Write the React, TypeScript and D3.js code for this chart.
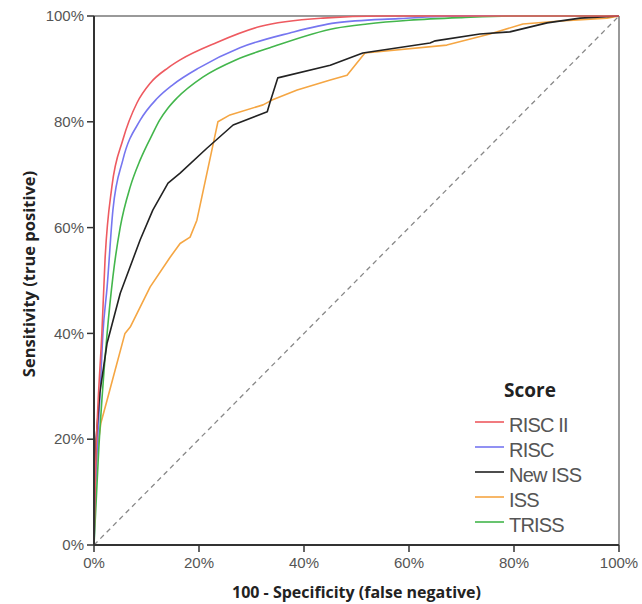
import React from 'react';
import * as d3 from 'd3';

// ROC points as [100 - specificity %, sensitivity %]
const riscII: [number, number][] = [
  [0, 0], [0.2, 10], [0.4, 18], [0.8, 27.4], [1.5, 40], [2.1, 53.9], [3.4, 67.7],
  [5.5, 76.6], [8.2, 83.6], [10.7, 87.3], [14.1, 90.2], [16.4, 91.7], [23.4, 95],
  [31.6, 98], [43.6, 99.6], [55, 100], [100, 100],
];
const risc: [number, number][] = [
  [0, 0], [0.3, 10], [0.6, 18], [1.1, 27.4], [1.7, 40], [2.5, 48.8], [3.6, 63.3],
  [5.5, 72.8], [8.8, 80.3], [12, 84.4], [15, 87], [20, 90.2], [27.8, 94],
  [37.3, 96.8], [46, 98.7], [58, 99.5], [70, 100], [100, 100],
];
const newIss: [number, number][] = [
  [0, 0], [0.1, 10], [0.4, 20], [1.1, 28.7], [2.5, 38.2], [5, 47.6], [8.8, 57.7],
  [11.2, 63.3], [14.1, 68.4], [16.4, 70.3], [21.5, 75], [26.5, 79.4], [33, 81.9],
  [33.5, 83.6], [35, 88.3], [45, 90.7], [51.2, 93], [64, 94.9], [65, 95.3],
  [73.5, 96.6], [79.2, 97], [86.3, 98.7], [92.6, 99.6], [100, 100],
];
const iss: [number, number][] = [
  [0, 0], [0.1, 8], [0.5, 17], [1.3, 23], [2.5, 27.4], [5.9, 40], [6.9, 41.2],
  [10.7, 48.8], [14.5, 54.4], [16.4, 57], [18.3, 58.2], [19.6, 61.4], [20.8, 67],
  [23.6, 80], [25.9, 81.3], [32.2, 83.2], [33.9, 84.1], [38.7, 86], [45, 87.9],
  [48.2, 88.8], [51.6, 93], [67.2, 94.5], [75.4, 96.6], [81.7, 98.5], [88.2, 99],
  [97.7, 99.6], [100, 100],
];
const triss: [number, number][] = [
  [0, 0], [0.4, 8], [0.9, 18], [1.5, 27.4], [2.5, 40], [3.6, 50.7], [5, 60.1],
  [6.9, 67.7], [8.8, 72.8], [11.2, 77.8], [12.5, 80.3], [14.1, 82.6], [15.8, 84.5],
  [20.8, 88.5], [27, 91.7], [33.5, 94], [46, 97.7], [52, 98.5], [60, 99.2],
  [70, 99.7], [80, 100], [100, 100],
];

const seriesNames = ['RISC II', 'RISC', 'New ISS', 'ISS', 'TRISS'];
const seriesData = [riscII, risc, newIss, iss, triss];
const seriesColors = ['#ee5a60', '#7676f0', '#222222', '#f5a643', '#43b64c'];
const seriesSmooth = [true, true, false, false, true];
// draw order (back to front)
const drawOrder = [3, 1, 4, 2, 0];

const tickValues = [0, 20, 40, 60, 80, 100];

const W = 642;
const H = 604;
const margin = { left: 94, right: 23, top: 16, bottom: 59 };

export default function App() {
  const x = d3.scaleLinear().domain([0, 100]).range([margin.left, W - margin.right]);
  const y = d3.scaleLinear().domain([0, 100]).range([H - margin.bottom, margin.top]);

  const lineSmooth = d3
    .line<[number, number]>()
    .x((d) => x(d[0]))
    .y((d) => y(d[1]))
    .curve(d3.curveMonotoneX);
  const lineStraight = d3
    .line<[number, number]>()
    .x((d) => x(d[0]))
    .y((d) => y(d[1]));

  const font = '"Liberation Sans", Arial, sans-serif';
  const titleFont = '"Open Sans", "Liberation Sans", sans-serif';
  const axisColor = '#333';

  return (
    <svg
      width={W}
      height={H}
      style={{ position: 'absolute', left: 0, top: 0, background: '#fff' }}
      fontFamily={font}
    >
      <rect x={0} y={0} width={W} height={H} fill="#fff" />

      {/* frame top/right */}
      <line x1={x(0)} x2={x(100)} y1={y(100)} y2={y(100)} stroke="#777" strokeWidth={1.5} />
      <line x1={x(100)} x2={x(100)} y1={y(100)} y2={y(0)} stroke="#777" strokeWidth={1.5} />

      {/* reference diagonal */}
      <line
        x1={x(0)}
        y1={y(0)}
        x2={x(100)}
        y2={y(100)}
        stroke="#888"
        strokeWidth={1.3}
        strokeDasharray="5,4"
      />

      {drawOrder.map((i) => (
        <path
          key={seriesNames[i]}
          d={(seriesSmooth[i] ? lineSmooth : lineStraight)(seriesData[i]) || ''}
          fill="none"
          stroke={seriesColors[i]}
          strokeWidth={1.6}
          strokeLinejoin="round"
        />
      ))}

      {/* axes */}
      <line x1={x(0)} x2={x(0)} y1={y(0)} y2={y(100)} stroke={axisColor} strokeWidth={2} />
      <line x1={x(0)} x2={x(100)} y1={y(0)} y2={y(0)} stroke={axisColor} strokeWidth={2} />

      {tickValues.map((t) => (
        <g key={'y' + t}>
          <line x1={x(0) - 7} x2={x(0)} y1={y(t)} y2={y(t)} stroke={axisColor} strokeWidth={1.5} />
          <text
            x={x(0) - 10}
            y={y(t)}
            dy="0.35em"
            textAnchor="end"
            fontSize={15}
            fill="#555"
          >
            {t}%
          </text>
        </g>
      ))}
      {tickValues.map((t) => (
        <g key={'x' + t}>
          <line x1={x(t)} x2={x(t)} y1={y(0)} y2={y(0) + 7} stroke={axisColor} strokeWidth={1.5} />
          <text x={x(t)} y={568} textAnchor="middle" fontSize={15} fill="#555">
            {t}%
          </text>
        </g>
      ))}

      <text
        x={(x(0) + x(100)) / 2}
        y={598}
        textAnchor="middle"
        fontFamily={titleFont}
        fontSize={16}
        fontWeight="bold"
        fill="#222"
      >
        100 - Specificity (false negative)
      </text>
      <text
        transform={`translate(35,274) rotate(-90)`}
        textAnchor="middle"
        fontFamily={titleFont}
        fontSize={16.5}
        fontWeight="bold"
        fill="#222"
      >
        Sensitivity (true positive)
      </text>

      {/* legend */}
      <text
        x={530}
        y={397}
        textAnchor="middle"
        fontFamily={titleFont}
        fontSize={19}
        fontWeight="bold"
        fill="#222"
      >
        Score
      </text>
      {seriesNames.map((name, i) => (
        <g key={name} transform={`translate(475,${422 + i * 25})`}>
          <line x1={0} x2={29} y1={0} y2={0} stroke={seriesColors[i]} strokeWidth={1.6} />
          <text x={34} y={9.5} fontSize={20} fill="#555" letterSpacing={-0.8}>
            {name}
          </text>
        </g>
      ))}
    </svg>
  );
}
